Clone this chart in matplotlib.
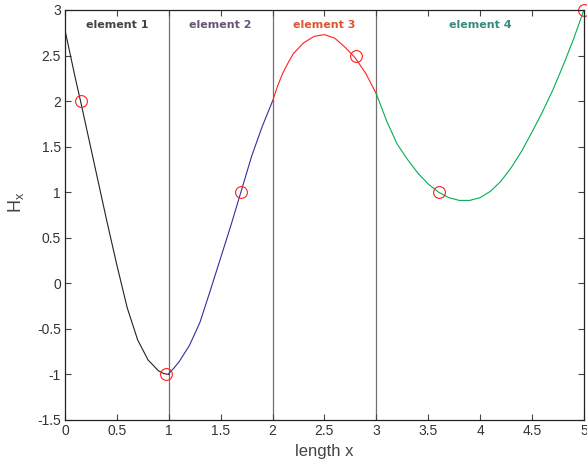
import matplotlib
matplotlib.use("Agg")
import matplotlib.pyplot as plt

plt.rcParams.update({'font.family': ['Liberation Sans', 'DejaVu Sans'],
                     'xtick.labelsize': 10, 'ytick.labelsize': 10})

# curve readings per element
x1 = [0.0, 0.1, 0.15, 0.2, 0.3, 0.4, 0.5, 0.6, 0.7, 0.8, 0.9, 0.95, 1.0]
y1 = [2.78, 2.25, 2.0, 1.74, 1.22, 0.70, 0.20, -0.27, -0.62, -0.84, -0.96, -0.99, -1.0]

x2 = [1.0, 1.05, 1.1, 1.2, 1.3, 1.4, 1.5, 1.6, 1.7, 1.8, 1.9, 2.0]
y2 = [-0.99, -0.93, -0.86, -0.68, -0.43, -0.08, 0.28, 0.64, 1.02, 1.40, 1.72, 2.0]

x3 = [2.0, 2.05, 2.1, 2.15, 2.2, 2.3, 2.4, 2.5, 2.6, 2.7, 2.8, 2.9, 3.0]
y3 = [2.0, 2.17, 2.31, 2.42, 2.52, 2.64, 2.71, 2.73, 2.69, 2.59, 2.47, 2.30, 2.08]

x4 = [3.0, 3.1, 3.2, 3.3, 3.4, 3.5, 3.6, 3.7, 3.8, 3.9, 4.0, 4.1, 4.2, 4.3,
      4.4, 4.5, 4.6, 4.7, 4.8, 4.9, 5.0]
y4 = [2.08, 1.78, 1.53, 1.36, 1.21, 1.09, 1.0, 0.94, 0.91, 0.91, 0.94, 1.01, 1.12, 1.27,
      1.45, 1.66, 1.88, 2.12, 2.39, 2.68, 3.0]

# nodal/sample points
px = [0.15, 0.97, 1.7, 2.8, 3.6, 5.0]
py = [2.0, -1.0, 1.0, 2.5, 1.0, 3.0]

boundaries = [1, 2, 3]
labels = ['element 1', 'element 2', 'element 3', 'element 4']
label_x = [0.5, 1.5, 2.5, 4.0]
label_colors = ['#444444', '#665577', '#dd5533', '#3a8a80']

fig = plt.figure(figsize=(5.87, 4.71), dpi=100)
ax = fig.add_axes([0.1107, 0.1083, 0.884, 0.8705])

for b in boundaries:
    ax.axvline(b, color='#707070', lw=0.9, zorder=1)

ax.plot(x1, y1, color='#222222', lw=0.8)
ax.plot(x2, y2, color='#3030a0', lw=0.8)
ax.plot(x3, y3, color='#ff2020', lw=0.8)
ax.plot(x4, y4, color='#00b050', lw=0.8)
ax.plot(px, py, 'o', mfc='none', mec='#ff2020', ms=8.5, mew=0.8, clip_on=False)

for lx, lab, c in zip(label_x, labels, label_colors):
    ax.text(lx, 2.83, lab, color=c, ha='center', va='center', fontsize=8,
            fontweight='bold', family='DejaVu Sans')

ax.set_xlim(0, 5)
ax.set_ylim(-1.5, 3)
ax.set_xticks([0, 0.5, 1, 1.5, 2, 2.5, 3, 3.5, 4, 4.5, 5])
ax.set_xticklabels(['0', '0.5', '1', '1.5', '2', '2.5', '3', '3.5', '4', '4.5', '5'])
ax.set_yticks([-1.5, -1, -0.5, 0, 0.5, 1, 1.5, 2, 2.5, 3])
ax.set_yticklabels(['-1.5', '-1', '-0.5', '0', '0.5', '1', '1.5', '2', '2.5', '3'])
ax.tick_params(direction='in', top=True, right=True, length=4, width=0.8,
               color='#444444', labelcolor='#333333', pad=3)
for s in ax.spines.values():
    s.set_color('#222222')
    s.set_linewidth(0.9)

ax.set_xlabel('length x', fontsize=12, color='#444444', labelpad=4)
ax.set_ylabel(r'$\mathregular{H_x}$', fontsize=13, color='#444444')
ax.yaxis.set_label_coords(-0.075, 0.53)

fig.savefig('out.png', dpi=100)
